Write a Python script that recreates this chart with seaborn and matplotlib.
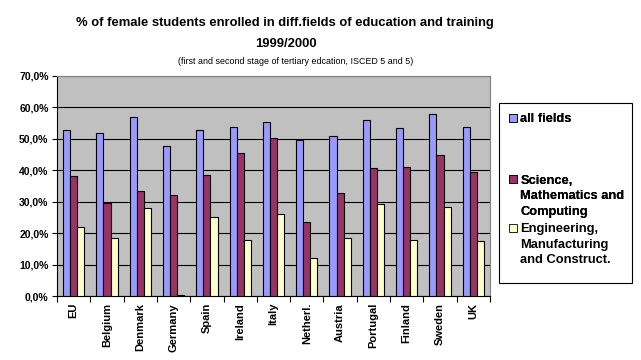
import matplotlib
matplotlib.use('Agg')
import matplotlib.pyplot as plt
from matplotlib.patches import Rectangle
from matplotlib.ticker import FuncFormatter, FixedLocator
import seaborn as sns
import pandas as pd

countries = ['EU', 'Belgium', 'Denmark', 'Germany', 'Spain', 'Ireland', 'Italy',
             'Netherl.', 'Austria', 'Portugal', 'Finland', 'Sweden', 'UK']
all_fields = [52.9, 51.9, 57.0, 47.7, 52.9, 53.8, 55.4, 49.5, 50.9, 56.0, 53.5, 58.0, 53.8]
science = [38.2, 29.7, 33.4, 32.1, 38.5, 45.5, 50.3, 23.5, 32.8, 40.7, 41.0, 44.9, 39.6]
engineering = [22.0, 18.4, 28.0, 0.3, 25.1, 17.8, 26.1, 12.1, 18.4, 29.3, 17.8, 28.3, 17.5]

series = ['all fields', 'Science, Mathematics and Computing',
          'Engineering, Manufacturing and Construct.']
colors = ['#9999FF', '#993366', '#FFFFCC']

df = pd.DataFrame({'country': countries, series[0]: all_fields,
                   series[1]: science, series[2]: engineering})
long_df = df.melt(id_vars='country', var_name='field', value_name='pct')

plt.rcParams['font.family'] = ['Liberation Sans', 'DejaVu Sans']

fig = plt.figure(figsize=(6.41, 3.6), dpi=100)
ax = fig.add_axes([57 / 641, 1 - 296 / 360, 433 / 641, 220 / 360])
ax.set_facecolor('#C0C0C0')

sns.barplot(data=long_df, x='country', y='pct', hue='field', hue_order=series,
            palette=colors, saturation=1, edgecolor='black', linewidth=0.8,
            width=0.64, legend=False, ax=ax, zorder=3)

ax.set_ylim(0, 70)
ax.set_xlim(-0.5, len(countries) - 0.5)
ax.yaxis.set_major_locator(FixedLocator([0, 10, 20, 30, 40, 50, 60, 70]))
ax.yaxis.set_major_formatter(FuncFormatter(lambda v, p: f'{v:.1f}%'.replace('.', ',')))
ax.grid(axis='y', color='black', linewidth=0.8, zorder=1)
ax.set_axisbelow(True)
ax.set_xlabel('')
ax.set_ylabel('')

ax.tick_params(axis='y', length=3.6, width=0.8, labelsize=7.5, pad=2.5)
ax.tick_params(axis='x', which='major', length=0, labelsize=8, pad=5)
ax.set_xticks([i - 0.5 for i in range(len(countries) + 1)], minor=True)
ax.tick_params(axis='x', which='minor', length=4, width=0.8)
for lab in ax.get_xticklabels():
    lab.set_rotation(90)
    lab.set_fontweight('bold')
for lab in ax.get_yticklabels():
    lab.set_fontweight('bold')

for side in ['left', 'bottom']:
    ax.spines[side].set_color('black')
    ax.spines[side].set_linewidth(0.8)
for side in ['top', 'right']:
    ax.spines[side].set_color('#808080')
    ax.spines[side].set_linewidth(0.8)

fig.text(285 / 641, 1 - 23 / 360,
         '% of female students enrolled in diff.fields of education and training',
         ha='center', va='center', fontsize=9.4, fontweight='bold')
fig.text(286 / 641, 1 - 44 / 360, '1999/2000', ha='center', va='center',
         fontsize=9.4, fontweight='bold')
fig.text(296 / 641, 1 - 62 / 360,
         '(first and second stage of tertiary edcation, ISCED 5 and 5)',
         ha='center', va='center', fontsize=6.4)

# legend frame
fig.patches.append(Rectangle((499 / 641, 1 - 283 / 360), 133 / 641, 180 / 360,
                             transform=fig.transFigure, facecolor='white',
                             edgecolor='black', linewidth=0.8))

blank = Rectangle((0, 0), 1, 1, fill=False, edgecolor='none')
def swatch(c):
    return Rectangle((0, 0), 1, 1, facecolor=c, edgecolor='black', linewidth=0.6)

leg_kw = dict(loc='upper left', frameon=False,
              prop={'weight': 'bold', 'size': 9.3}, handlelength=0.55,
              handleheight=0.55, handletextpad=0.3, labelspacing=0.26, borderpad=0)

leg1 = fig.legend([swatch(colors[0]), blank, blank, blank,
                   swatch(colors[1]), blank, blank],
                  ['all fields', ' ', ' ', ' ',
                   'Science,', 'Mathematics and', 'Computing'],
                  bbox_to_anchor=(503 / 641, 1 - 107 / 360), **leg_kw)
fig.add_artist(leg1)
fig.legend([swatch(colors[2]), blank, blank],
           ['Engineering,', 'Manufacturing', 'and Construct.'],
           bbox_to_anchor=(503 / 641, 1 - 217 / 360), **leg_kw)

fig.savefig('out.png', dpi=100)
